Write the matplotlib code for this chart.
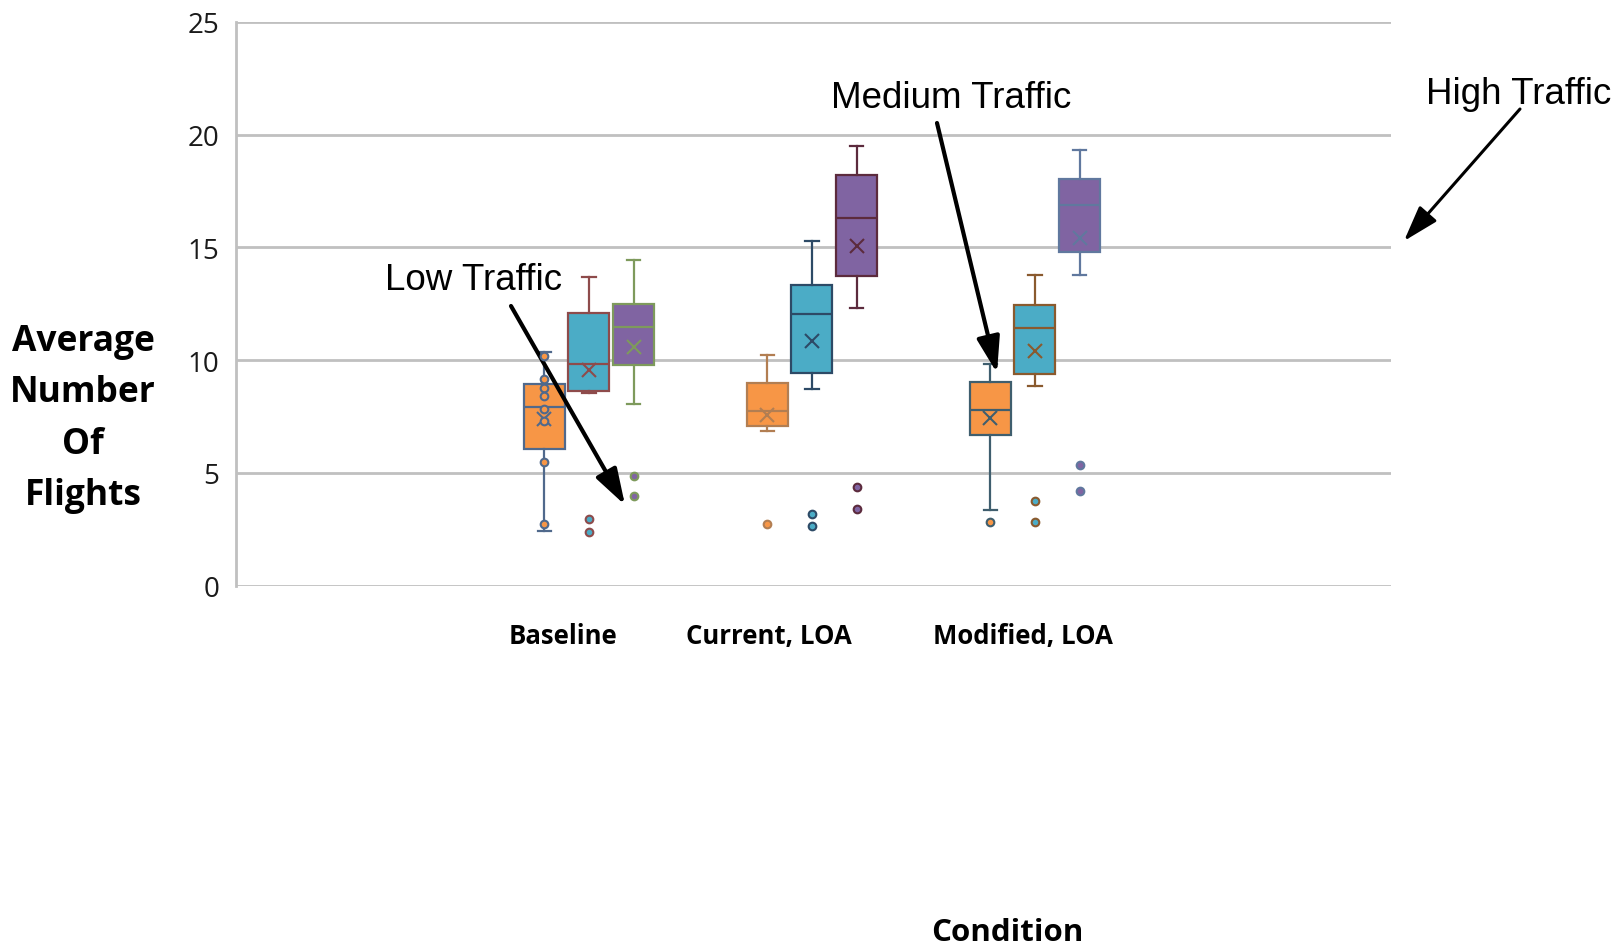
import numpy as np
import matplotlib.pyplot as plt

conditions = ['Baseline', 'Current, LOA', 'Modified, LOA']
traffic = ['Low Traffic', 'Medium Traffic', 'High Traffic']

# box statistics, rows = condition, cols = traffic level (low, medium, high)
q1 = [[6.04, 8.64, 9.77], [7.06, 9.44, 13.73], [6.66, 9.37, 14.78]]
medians = [[7.92, 9.84, 11.46], [7.73, 12.05, 16.30], [7.77, 11.43, 16.88]]
q3 = [[8.92, 12.11, 12.51], [9.00, 13.33, 18.23], [9.03, 12.44, 18.04]]
whislo = [[2.41, 8.54, 8.07], [6.85, 8.73, 12.32], [3.33, 8.85, 13.77]]
whishi = [[10.36, 13.70, 14.44], [10.24, 15.30, 19.50], [9.84, 13.77, 19.30]]
means = [[7.40, 9.58, 10.59], [7.58, 10.84, 15.04], [7.43, 10.39, 15.43]]
outliers = [[[], [2.96, 2.39], [4.85, 3.99]],
            [[2.73], [3.19, 2.66], [4.39, 3.40]],
            [[2.81], [3.73, 2.81], [5.33, 4.19]]]
inner_points = [[[10.19, 9.15, 8.78, 8.41, 7.84, 7.28, 5.47, 2.73], [], []],
                [[], [], []],
                [[], [], []]]

fills = ['#F79646', '#4BACC6', '#8064A2']
edges = [['#50698C', '#8E4B4B', '#7E9A5C'],
         ['#B27E52', '#2D4A66', '#5C2B3D'],
         ['#3F5E6E', '#8A5A2E', '#60789E']]

grid_c = '#C0C0C0'

fig = plt.figure(figsize=(16.19, 9.45), dpi=100)
ax = fig.add_axes([236 / 1619, 358.5 / 945, 1155 / 1619, 563.5 / 945])

group_x = np.arange(len(conditions)) + 1.0
offsets = [-0.2, 0.0, 0.2]
box_w = 0.184

for i in range(len(conditions)):
    for j in range(len(traffic)):
        pos = group_x[i] + offsets[j]
        ec = edges[i][j]
        st = dict(med=medians[i][j], q1=q1[i][j], q3=q3[i][j],
                  whislo=whislo[i][j], whishi=whishi[i][j],
                  mean=means[i][j], fliers=[])
        ax.bxp([st], positions=[pos], widths=box_w, capwidths=0.06,
               showmeans=True, showfliers=False, patch_artist=True,
               boxprops=dict(facecolor=fills[j], edgecolor=ec, linewidth=1.6),
               medianprops=dict(color=ec, linewidth=1.6),
               whiskerprops=dict(color=ec, linewidth=1.6),
               capprops=dict(color=ec, linewidth=1.6),
               meanprops=dict(marker='x', markeredgecolor=ec, markersize=10,
                              markeredgewidth=1.5))
        pts = inner_points[i][j] + outliers[i][j]
        if pts:
            ax.plot([pos] * len(pts), pts, 'o', ms=5.5, mfc=fills[j],
                    mec=ec, mew=1.5, zorder=4)

ax.set_ylim(0, 25)
ax.set_xlim(1 - 1.583, 1 - 1.583 + 5.18)
ax.set_yticks(range(0, 26, 5))
ax.yaxis.grid(True, color=grid_c, linewidth=2)
ax.set_axisbelow(True)
for s in ['top', 'right', 'bottom']:
    ax.spines[s].set_visible(False)
ax.spines['left'].set_color(grid_c)
ax.spines['left'].set_linewidth(2)
ax.tick_params(axis='y', length=0, pad=12, labelsize=20, labelcolor='#1a1a1a')
for lab in ax.get_yticklabels():
    lab.set_family('Open Sans')

ax.set_xticks(group_x + np.array([-0.117, -0.193, -0.055]))
ax.set_xticklabels(conditions, fontsize=18.5, fontweight='bold', family='Open Sans')
ax.tick_params(axis='x', length=0, pad=26)

fig.text(83 / 1619, (945 - 419) / 945, 'Average\nNumber\nOf\nFlights',
         ha='center', va='center', fontsize=25.5, fontweight='bold',
         family='Open Sans', linespacing=1.58)
fig.text(1007 / 1619, (945 - 933) / 945, 'Condition', ha='center',
         va='center', fontsize=22.5, fontweight='bold', family='Open Sans')

# traffic labels with arrows pointing at the boxes
labels = [(474, 280, (511, 307), (625, 506), 3.0),
          (951, 98, (937, 124), (997, 374), 3.0),
          (1519, 94, (1520, 110), (1404, 242), 2.2)]
for name, (tx, ty, tail, tip, lw) in zip(traffic, labels):
    fig.text(tx / 1619, (945 - ty) / 945, name, ha='center', va='center',
             fontsize=26.5, family='Liberation Sans')
    ax.annotate('', xy=(tip[0], 945 - tip[1]), xycoords='figure pixels',
                xytext=(tail[0], 945 - tail[1]), textcoords='figure pixels',
                arrowprops=dict(arrowstyle='-|>,head_length=1.0,head_width=0.32',
                                mutation_scale=22, lw=lw, color='black',
                                shrinkA=0, shrinkB=0),
                annotation_clip=False)

fig.savefig('out.png', dpi=100)
